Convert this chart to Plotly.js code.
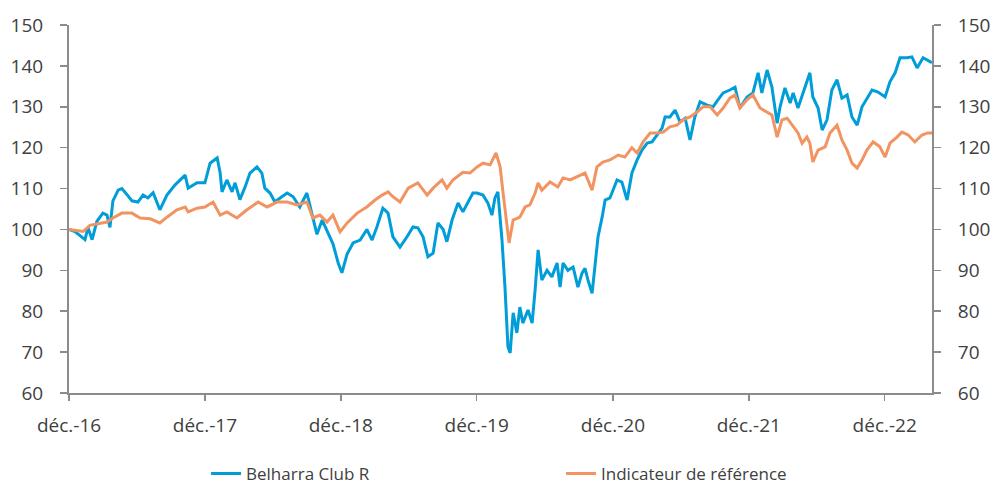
<!DOCTYPE html>
<html>
<head>
<meta charset="utf-8">
<script src="https://cdn.plot.ly/plotly-3.0.1.min.js"></script>
<style>html,body{margin:0;padding:0;background:#fff;}#chart{width:993px;height:486px;}</style>
</head>
<body>
<div id="chart"></div>
<script>
const blueName = "Belharra Club R";
const refName = "Indicateur de référence";

const blueDates = ["2016-12-31","2017-01-16","2017-02-12","2017-02-20","2017-03-03","2017-03-16","2017-04-01","2017-04-12","2017-04-20","2017-04-28","2017-05-12","2017-05-22","2017-06-05","2017-06-18","2017-07-04","2017-07-18","2017-07-31","2017-08-14","2017-09-01","2017-09-20","2017-10-12","2017-11-08","2017-11-16","2017-12-10","2017-12-31",
"2018-01-14","2018-02-02","2018-02-10","2018-02-15","2018-02-28","2018-03-14","2018-03-22","2018-04-04","2018-04-18","2018-05-01","2018-05-20","2018-06-02","2018-06-10","2018-06-24","2018-07-07","2018-07-21","2018-08-09","2018-08-25","2018-09-12","2018-10-01","2018-10-15","2018-10-28","2018-11-11","2018-11-27","2018-12-10","2018-12-24",
"2019-01-03","2019-01-17","2019-02-02","2019-02-21","2019-03-11","2019-03-25","2019-04-07","2019-04-23","2019-05-07","2019-05-20","2019-06-08","2019-06-27","2019-07-13","2019-07-26","2019-08-09","2019-08-22","2019-09-05","2019-09-18","2019-10-02","2019-10-12","2019-10-26","2019-11-11","2019-11-24","2019-12-08","2019-12-21",
"2020-01-01","2020-01-17","2020-01-30","2020-02-10","2020-02-18","2020-02-26","2020-03-08","2020-03-16","2020-03-24","2020-03-30","2020-04-07","2020-04-17","2020-04-25","2020-05-03","2020-05-17","2020-05-28","2020-06-05","2020-06-13","2020-06-23","2020-07-07","2020-07-20","2020-08-03","2020-08-11","2020-08-19","2020-09-01","2020-09-15","2020-09-28","2020-10-09","2020-10-17","2020-10-25","2020-11-05","2020-11-13","2020-11-21","2020-12-02","2020-12-10","2020-12-23",
"2021-01-11","2021-01-24","2021-02-07","2021-02-20","2021-03-06","2021-03-19","2021-04-02","2021-04-15","2021-04-28","2021-05-12","2021-05-20","2021-06-02","2021-06-16","2021-06-29","2021-07-13","2021-07-26","2021-08-08","2021-08-22","2021-09-10","2021-09-26","2021-10-09","2021-10-23","2021-11-10","2021-11-24","2021-12-07","2021-12-26",
"2022-01-11","2022-01-25","2022-02-04","2022-02-18","2022-03-03","2022-03-17","2022-03-25","2022-04-07","2022-04-21","2022-04-29","2022-05-12","2022-05-26","2022-06-13","2022-06-21","2022-07-05","2022-07-16","2022-07-29","2022-08-11","2022-08-25","2022-09-07","2022-09-21","2022-10-04","2022-10-18","2022-10-31","2022-11-13","2022-11-27","2022-12-13",
"2023-01-01","2023-01-14","2023-01-28","2023-02-10","2023-03-01","2023-03-14","2023-03-28","2023-04-13","2023-04-26","2023-05-07"];
const blueValues = [100,99.5,97.5,100.5,97.5,102,104,103.5,100.5,107,109.6,110,108.5,107,106.7,108.4,107.7,109,104.8,108.4,110.9,113.3,110.1,111.4,111.4,
116.2,117.5,113.8,109.2,112.1,109.2,111.4,107.3,110.4,113.8,115.3,113.8,110.1,108.9,106.7,107.7,108.9,108,105.5,108.9,104,98.8,102.3,99.1,96.5,91.8,
89.4,94,96.7,97.4,100,97.4,100.6,105.2,104,98.2,95.7,98.2,100.6,100.4,98.2,93.3,94.2,101.6,100,97,102.3,106.5,104.3,106.7,108.9,
108.9,108.4,106.5,103.5,107.7,109.2,97.4,85.9,71.3,69.8,79.6,74.7,81,77.1,80.3,77.1,85.2,95,87.6,90,88.4,91.8,85.9,91.8,90,90.8,85.9,89.3,90.5,87.6,84.4,90.8,98.2,103,107.2,107.7,
112.1,111.6,107.2,113.8,117,119.4,121.1,121.4,123.1,124.8,127.5,127.5,129.2,126.3,127.2,121.9,127.5,131.2,130.4,130,131.7,133.4,134.1,134.8,129.7,132.4,
133.4,138.3,133.4,139,134.8,126,130,134.6,130.9,133.4,129.7,133.4,138.3,132.4,129.7,124.3,126.8,134.1,136.6,132.1,132.9,127.5,125.5,130,132.1,134.1,133.6,
132.4,136.1,138.3,142,142,142.2,139.5,142,141.4,140.8];

const refDates = ["2016-12-31","2017-01-16","2017-02-07","2017-02-25","2017-03-24","2017-04-12","2017-04-28","2017-05-22","2017-06-18","2017-07-10","2017-08-06","2017-09-01","2017-09-20","2017-10-17","2017-11-08","2017-11-16","2017-12-10","2017-12-31",
"2018-01-22","2018-02-10","2018-02-28","2018-03-27","2018-04-23","2018-05-23","2018-06-16","2018-07-13","2018-08-09","2018-09-04","2018-10-01","2018-10-17","2018-11-05","2018-11-24","2018-12-10","2018-12-29",
"2019-01-17","2019-02-13","2019-03-11","2019-04-02","2019-04-21","2019-05-07","2019-05-20","2019-06-08","2019-06-30","2019-07-26","2019-08-20","2019-09-05","2019-09-29","2019-10-12","2019-10-28","2019-11-24","2019-12-13",
"2020-01-01","2020-01-17","2020-02-05","2020-02-21","2020-03-03","2020-03-11","2020-03-21","2020-03-27","2020-04-07","2020-04-25","2020-05-09","2020-05-22","2020-06-05","2020-06-13","2020-06-23","2020-07-15","2020-08-05","2020-08-19","2020-09-07","2020-09-25","2020-10-17","2020-11-05","2020-11-18","2020-12-04","2020-12-23",
"2021-01-14","2021-02-01","2021-02-20","2021-03-06","2021-03-22","2021-04-10","2021-04-28","2021-05-15","2021-06-02","2021-06-21","2021-07-07","2021-07-26","2021-08-14","2021-08-30","2021-09-18","2021-10-07","2021-10-23","2021-11-10","2021-11-24","2021-12-07","2021-12-26",
"2022-01-11","2022-01-30","2022-02-18","2022-03-03","2022-03-17","2022-03-30","2022-04-13","2022-04-29","2022-05-12","2022-05-23","2022-06-05","2022-06-13","2022-06-21","2022-07-05","2022-07-24","2022-08-06","2022-08-25","2022-09-07","2022-09-21","2022-10-04","2022-10-18","2022-10-31","2022-11-13","2022-11-30","2022-12-18",
"2023-01-01","2023-01-14","2023-02-02","2023-02-15","2023-03-04","2023-03-22","2023-04-10","2023-04-26","2023-05-07"];
const refValues = [100,99.8,99.5,101,101.5,101.8,102.8,104,104,102.8,102.6,101.6,103,104.8,105.5,104.3,105.2,105.5,
106.7,103.5,104.3,102.8,104.8,106.7,105.5,106.7,106.7,106,106.7,102.8,103.5,101.8,103.5,99.4,
101.6,104,105.5,107.2,108.4,109.2,108,106.7,110.1,111.4,108.4,110.1,112.1,110.1,112.1,114,113.8,
115.3,116.2,115.8,118.7,115.3,108.9,100.6,96.7,102.3,103,105.5,106,108.9,111.4,109.6,111.6,110.4,112.6,112.1,112.8,113.8,109.6,115.3,116.5,117,
118.2,117.7,120,118.7,121.4,123.6,123.6,123.8,125.1,125.5,126.8,127.5,128.7,130,130,128,129.7,132.1,132.9,129.7,131.7,
132.9,129.7,128.7,128,122.6,126.8,127.2,125.1,123.6,121.1,122.6,121.1,116.5,119.4,120.2,123.6,125.5,121.9,119.4,116.2,115,117,119.4,121.4,120.2,
117.7,121.1,122.6,123.8,123.1,121.4,123.1,123.6,123.6];

const tickDates = ["2016-12-31","2017-12-31","2018-12-31","2019-12-31","2020-12-31","2021-12-31","2022-12-31"];
const tickLabels = ["déc.-16","déc.-17","déc.-18","déc.-19","déc.-20","déc.-21","déc.-22"];
const yTicks = [60,70,80,90,100,110,120,130,140,150];

const fontFam = "'Open Sans', 'Noto Sans', sans-serif";
const textColor = "#404040";
const axisColor = "#8c8c8c";
const fs = 19;

const traces = [
  {x: blueDates, y: blueValues, name: blueName, type: "scatter", mode: "lines",
   line: {color: "#009DD9", width: 3}},
  {x: refDates, y: refValues, name: refName, type: "scatter", mode: "lines",
   line: {color: "#F29461", width: 3}},
  {x: [], y: [], yaxis: "y2", showlegend: false, hoverinfo: "skip", type: "scatter", mode: "lines"}
];

const yAxisCommon = {
  range: [60, 150], tickvals: yTicks, ticks: "outside", ticklen: 7, tickcolor: axisColor, tickwidth: 1.5,
  showline: true, linecolor: axisColor, linewidth: 2, showgrid: false, zeroline: false,
  ticklabelstandoff: 13, automargin: false,
  tickfont: {family: fontFam, size: fs, color: textColor}, fixedrange: true
};

const layout = {
  width: 993, height: 486,
  margin: {l: 69, r: 61, t: 25, b: 93, autoexpand: false},
  paper_bgcolor: "#fff", plot_bgcolor: "#fff",
  font: {family: fontFam, size: fs, color: textColor},
  showlegend: true,
  legend: {orientation: "h", xref: "container", yref: "container", x: 0.2075, xanchor: "left",
    y: 0.025, yanchor: "middle", bgcolor: "rgba(0,0,0,0)",
    entrywidth: 310, entrywidthmode: "pixels", font: {family: fontFam, size: 17, color: textColor}},
  xaxis: {type: "date", range: ["2016-12-31", "2023-05-07"], tickvals: tickDates, ticktext: tickLabels,
    ticks: "outside", ticklen: 6, tickcolor: axisColor, tickwidth: 1.5, showline: true, linecolor: axisColor, linewidth: 2,
    ticklabelstandoff: 8, automargin: false,
    showgrid: false, zeroline: false, tickfont: {family: fontFam, size: fs, color: textColor}},
  yaxis: Object.assign({}, yAxisCommon, {side: "left"}),
  yaxis2: Object.assign({}, yAxisCommon, {side: "right", overlaying: "y"})
};

Plotly.newPlot("chart", traces, layout, {displayModeBar: false, staticPlot: true});
</script>
</body>
</html>
